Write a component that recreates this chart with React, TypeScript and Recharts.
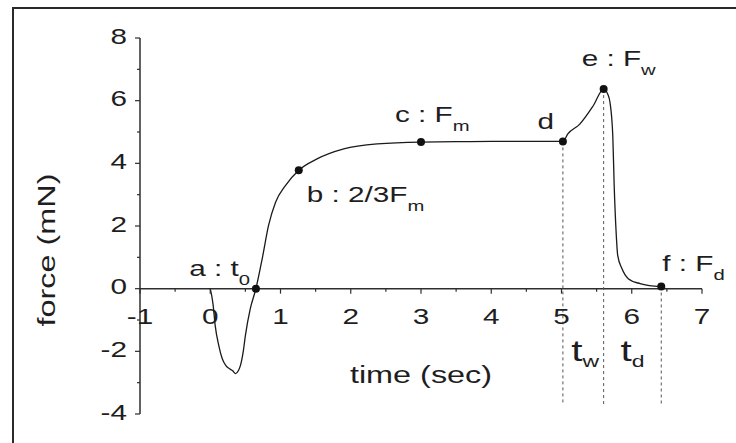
import React from 'react';
import { LineChart, Line, XAxis, YAxis, ReferenceLine, ReferenceDot } from 'recharts';

// force trace (sec, mN)
const curveTime = [
  0.0, 0.04, 0.07, 0.12, 0.17, 0.22, 0.27, 0.32, 0.36, 0.4, 0.43, 0.47, 0.5, 0.57, 0.65,
  0.74, 0.83, 0.93, 1.07, 1.26, 1.52, 1.9, 2.38, 3.0, 3.5, 4.0, 4.5, 5.02, 5.09, 5.26,
  5.45, 5.6, 5.66, 5.69, 5.73, 5.75, 5.78, 5.8, 5.86, 5.95, 6.12, 6.25, 6.42,
];
const curveForce = [
  0, -0.5, -1.17, -1.8, -2.23, -2.45, -2.55, -2.62, -2.71, -2.62, -2.45, -2.0, -1.5, -0.64, 0,
  0.96, 2.02, 2.76, 3.29, 3.78, 4.14, 4.46, 4.62, 4.68, 4.69, 4.7, 4.7, 4.7, 4.94, 5.25,
  5.83, 6.37, 6.2, 5.95, 4.88, 3.29, 1.7, 1.06, 0.64, 0.32, 0.16, 0.1, 0.07,
];

// marked points a..f
const keyTime = [0.65, 1.26, 3.0, 5.02, 5.6, 6.42];
const keyForce = [0, 3.78, 4.68, 4.7, 6.37, 0.07];
const keyText = ['a : t', 'b : 2/3F', 'c : F', 'd', 'e : F', 'f : F'];
const keySub = ['0', 'm', 'm', '', 'w', 'd'];

// dashed drop lines from d, e, f
const dropFrom = [3, 4, 5];
const dropFloor = -3.7;

// interval labels t_w (d..e) and t_d (e..f)
const spanText = ['t', 't'];
const spanSub = ['w', 'd'];
const spanStart = [3, 4];
const spanEnd = [4, 5];
const spanLevel = -2.3;

const xTicks = [-1, -0.5, 0, 0.5, 1, 1.5, 2, 2.5, 3, 3.5, 4, 4.5, 5, 5.5, 6, 6.5, 7];
const yTicks = [-4, -3, -2, -1, 0, 1, 2, 3, 4, 5, 6, 7, 8];

const rows = curveTime.map((t, i) => ({ t, f: curveForce[i] }));

const W = 736;
const H = 443;
const MARGIN = { top: 38, right: 34, bottom: 0, left: 80 };
const Y_AXIS_W = 60;
const X_AXIS_H = 29;
const Y_MIN = -4;
const Y_MAX = 8;
const PLOT_H = H - MARGIN.top - MARGIN.bottom - X_AXIS_H;
// distance from the plot bottom up to force = 0, where the time axis crosses
const ZERO_UP = (PLOT_H * (0 - Y_MIN)) / (Y_MAX - Y_MIN);

const FONT = '"Liberation Sans", Arial, Helvetica, sans-serif';
const INK = '#1e1e1e';
const AXIS = '#2e2e2e';
const STRETCH = 1.35;

function Wide({ x, y, size, anchor = 'start', rotate = 0, children }: any) {
  return (
    <text
      transform={`translate(${x},${y}) rotate(${rotate}) scale(${STRETCH},1)`}
      fontSize={size}
      fontFamily={FONT}
      fill={INK}
      textAnchor={anchor}
    >
      {children}
    </text>
  );
}

function TimeTick({ x, y, payload }: any) {
  const v = payload.value;
  const zy = y - ZERO_UP;
  const major = Number.isInteger(v);
  return (
    <g>
      <line x1={x} x2={x} y1={zy} y2={zy + (major ? 5 : 3)} stroke={AXIS} strokeWidth={1.2} />
      {major && (
        <Wide x={x} y={zy + 35} size={22} anchor="middle">
          {v}
        </Wide>
      )}
    </g>
  );
}

function ForceTick({ x, y, payload }: any) {
  const v = payload.value;
  const major = v % 2 === 0;
  return (
    <g>
      <line x1={x - (major ? 5 : 3)} x2={x} y1={y} y2={y} stroke={AXIS} strokeWidth={1.2} />
      {major && (
        <Wide x={x - 13} y={y + 5.5} size={22} anchor="end">
          {v}
        </Wide>
      )}
    </g>
  );
}

function TimeTitle({ viewBox }: any) {
  return (
    <Wide x={viewBox.x + viewBox.width / 2} y={viewBox.y - 31} size={24} anchor="middle">
      time (sec)
    </Wide>
  );
}

function ForceTitle({ viewBox }: any) {
  return (
    <Wide x={viewBox.x - 25} y={viewBox.y + viewBox.height / 2 + 24} size={24} anchor="middle" rotate={-90}>
      force (mN)
    </Wide>
  );
}

// where each point's caption sits relative to its dot
const keyPlace = [
  { dx: -6, dy: -13, anchor: 'end' },
  { dx: 8, dy: 32, anchor: 'start' },
  { dx: -26, dy: -20, anchor: 'start' },
  { dx: -9, dy: -12, anchor: 'end' },
  { dx: -22, dy: -23, anchor: 'start' },
  { dx: 1, dy: -15, anchor: 'start' },
];

function keyShape(i: number) {
  return (p: any) => {
    const place = keyPlace[i];
    return (
      <g>
        <circle cx={p.cx} cy={p.cy} r={4} fill="#111" />
        <Wide x={p.cx + place.dx} y={p.cy + place.dy} size={22} anchor={place.anchor}>
          {keyText[i]}
          {keySub[i] && (
            <tspan fontSize={15} dy={9}>
              {keySub[i]}
            </tspan>
          )}
        </Wide>
      </g>
    );
  };
}

function spanShape(i: number) {
  return (p: any) => (
    <Wide x={p.cx - 12} y={p.cy} size={30} anchor="start">
      {spanText[i]}
      <tspan fontSize={17} dy={6}>
        {spanSub[i]}
      </tspan>
    </Wide>
  );
}

export default function App() {
  return (
    <div
      style={{
        position: 'fixed',
        left: 0,
        top: 0,
        width: W,
        height: H,
        background: '#fff',
        overflow: 'hidden',
      }}
    >
      <div
        style={{
          position: 'absolute',
          left: 12,
          top: 7,
          width: 900,
          height: 600,
          border: '2.5px solid #2a2a2a',
        }}
      />
      <LineChart
        width={W}
        height={H}
        data={rows}
        margin={MARGIN}
        style={{ position: 'absolute', left: 0, top: 0 }}
      >
        <XAxis
          dataKey="t"
          type="number"
          domain={[-1, 7]}
          ticks={xTicks}
          interval={0}
          height={X_AXIS_H}
          axisLine={false}
          tickLine={false}
          tickSize={0}
          tickMargin={0}
          tick={<TimeTick />}
          label={{ content: TimeTitle }}
        />
        <YAxis
          type="number"
          domain={[Y_MIN, Y_MAX]}
          ticks={yTicks}
          interval={0}
          width={Y_AXIS_W}
          axisLine={{ stroke: AXIS, strokeWidth: 1.5 }}
          tickLine={false}
          tickSize={0}
          tickMargin={0}
          tick={<ForceTick />}
          label={{ content: ForceTitle }}
        />
        <ReferenceLine y={0} stroke={AXIS} strokeWidth={1.5} />
        {dropFrom.map((k) => (
          <ReferenceLine
            key={`drop-${k}`}
            segment={[
              { x: keyTime[k], y: keyForce[k] },
              { x: keyTime[k], y: dropFloor },
            ]}
            stroke="#555"
            strokeWidth={1}
            strokeDasharray="3 3"
          />
        ))}
        <Line
          type="monotone"
          dataKey="f"
          stroke="#1a1a1a"
          strokeWidth={1.3}
          dot={false}
          activeDot={false}
          isAnimationActive={false}
        />
        {keyTime.map((t, i) => (
          <ReferenceDot key={`key-${i}`} x={t} y={keyForce[i]} r={4} shape={keyShape(i)} />
        ))}
        {spanStart.map((s, i) => (
          <ReferenceDot
            key={`span-${i}`}
            x={(keyTime[s] + keyTime[spanEnd[i]]) / 2}
            y={spanLevel}
            r={0}
            shape={spanShape(i)}
          />
        ))}
      </LineChart>
    </div>
  );
}
